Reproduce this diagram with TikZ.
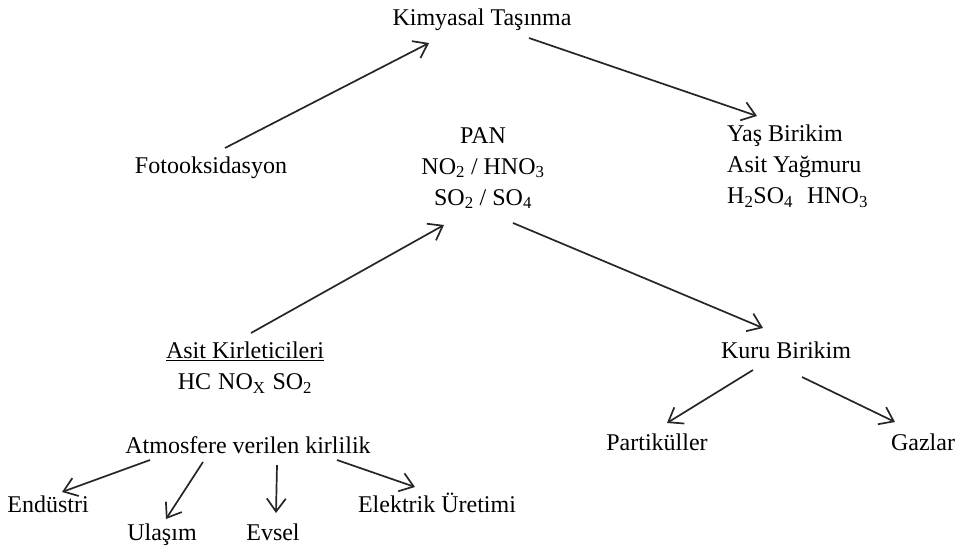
\documentclass[tikz,border=0pt]{standalone}
\usepackage{fontspec}
\setmainfont{Liberation Serif}
\usetikzlibrary{arrows.meta}

\begin{document}
\begin{tikzpicture}[x=1pt, y=-1pt,
  every node/.style = {inner sep=0pt, font=\fontsize{24}{31}\selectfont},
  block/.style = {align=center, anchor=north},
  arr/.style = {draw=black!85, line width=1.7pt,
    -{Straight Barb[length=13pt,width=19pt]}}]
  \useasboundingbox (0,0) rectangle (959,549);
  % upper part
  \node[anchor=base] (kimyasal) at (482,25) {Kimyasal Taşınma};
  \node[anchor=base] (foto) at (211,173) {Fotooksidasyon};
  \node[block] (pan) at (483,127) {PAN\\ NO\textsubscript{2} / HNO\textsubscript{3}\\ SO\textsubscript{2} / SO\textsubscript{4}};
  \node[block, align=left, anchor=north west] (yas) at (727,125)
    {Yaş Birikim\\ Asit Yağmuru\\ H\textsubscript{2}SO\textsubscript{4}\hspace{14pt}HNO\textsubscript{3}};
  % lower part
  \node[block] (asit) at (245,342) {\underline{Asit Kirleticileri}\\ HC\hspace{7pt}NO\textsubscript{X}\hspace{7pt}SO\textsubscript{2}};
  \node[anchor=base] (kuru) at (786,358) {Kuru Birikim};
  \node[anchor=base] (partikul) at (657,450) {Partiküller};
  \node[anchor=base] (gaz) at (923,450) {Gazlar};
  \node[anchor=base] (atmosfer) at (248,453) {Atmosfere verilen kirlilik};
  \node[anchor=base] (endustri) at (48,512) {Endüstri};
  \node[anchor=base] (ulasim) at (162,540) {Ulaşım};
  \node[anchor=base] (evsel) at (273,540) {Evsel};
  \node[anchor=base] (elektrik) at (437,512) {Elektrik Üretimi};
  % arrows
  \draw[arr] ([xshift=14pt,yshift=25pt]foto.base) -- ([xshift=-53pt,yshift=-18pt]kimyasal.base);
  \draw[arr] ([xshift=47pt,yshift=-13pt]kimyasal.base) -- ([xshift=30pt,yshift=9pt]yas.north west);
  \draw[arr] ([xshift=6pt,yshift=9pt]asit.north) -- ([xshift=-39pt,yshift=-16pt]pan.south);
  \draw[arr] ([xshift=30pt,yshift=-14pt]pan.south) -- ([xshift=-23pt,yshift=30pt]kuru.base);
  \draw[arr] ([xshift=-33pt,yshift=-12pt]kuru.base) -- ([xshift=10pt,yshift=27pt]partikul.base);
  \draw[arr] ([xshift=16pt,yshift=-19pt]kuru.base) -- ([xshift=-28pt,yshift=28pt]gaz.base);
  \draw[arr] ([xshift=-98pt,yshift=-7pt]atmosfer.base) -- ([xshift=14pt,yshift=20pt]endustri.base);
  \draw[arr] ([xshift=-45pt,yshift=-9pt]atmosfer.base) -- ([xshift=4pt,yshift=21pt]ulasim.base);
  \draw[arr] ([xshift=29pt,yshift=-12pt]atmosfer.base) -- ([xshift=3pt,yshift=27pt]evsel.base);
  \draw[arr] ([xshift=89pt,yshift=-7pt]atmosfer.base) -- ([xshift=-22pt,yshift=25pt]elektrik.base);
\end{tikzpicture}
\end{document}
